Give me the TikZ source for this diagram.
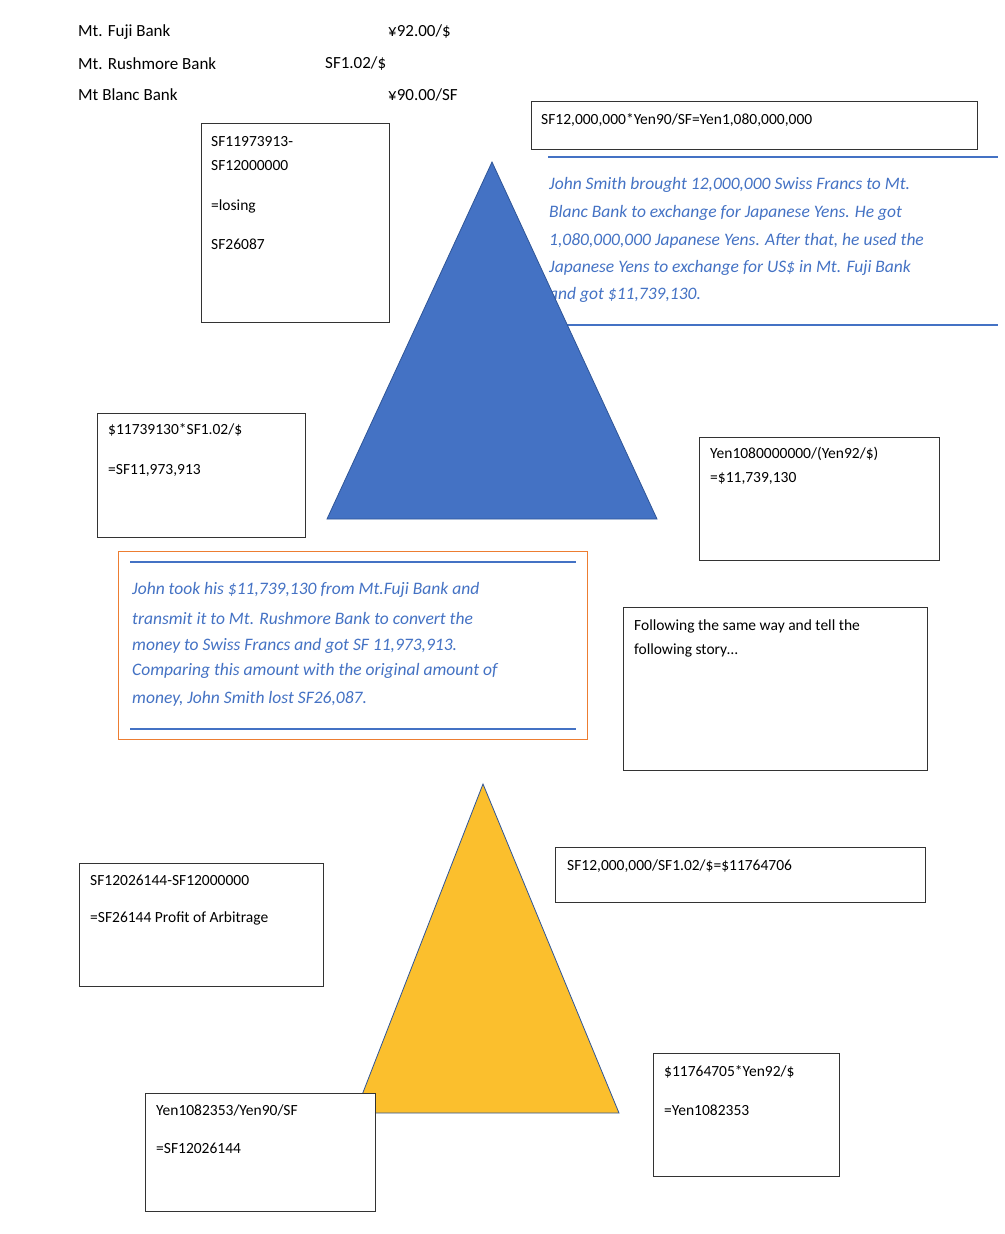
\documentclass[tikz,border=0pt]{standalone}
\usepackage{fontspec}
\setmainfont{Carlito}
\definecolor{tblue}{HTML}{4472C4}
\definecolor{torange}{HTML}{ED7D31}
\definecolor{tyellow}{HTML}{FBBF2D}
\definecolor{dblue}{HTML}{2F5597}
\begin{document}
\begin{tikzpicture}[x=1pt,y=-1pt,
  lbl/.style={anchor=west,inner sep=0pt,font=\fontsize{17}{20}\selectfont},
  bt/.style={anchor=west,inner sep=0pt,font=\fontsize{15.5}{18}\selectfont},
  it/.style={anchor=west,inner sep=0pt,text=tblue,font=\fontsize{17.5}{20}\selectfont\itshape},
  wbox/.style={draw=black!80,fill=white,line width=0.8pt},
  bline/.style={draw=tblue,line width=2.2pt}]
\useasboundingbox (0,0) rectangle (1004,1234);
\node[lbl] (l1) at (78,32) {Mt. Fuji Bank};
\node[lbl] (r1) at (388,32) {¥92.00/\$};
\node[lbl] (l2) at (78,64) {Mt. Rushmore Bank};
\node[lbl] (r2) at (325,64) {SF1.02/\$};
\node[lbl] (l3) at (78,95) {Mt Blanc Bank};
\node[lbl] (r3) at (388,95) {¥90.00/SF};
% box 1
\draw[wbox] (201,123) rectangle (389,322);
\node[bt] (b1a) at (211,142) {SF11973913-};
\node[bt] (b1b) at (211,166) {SF12000000};
\node[bt] (b1c) at (211,206) {=losing};
\node[bt] (b1d) at (211,244) {SF26087};
% top right box
\draw[wbox] (531,101) rectangle (977,149);
\node[bt] (b2) at (541,120) {SF12,000,000*Yen90/SF=Yen1,080,000,000};
\draw[bline] (548,157) -- (998,157);
\draw[bline] (548,325) -- (998,325);
\node[it] (t1) at (549,185) {John Smith brought 12,000,000 Swiss Francs to Mt.};
\node[it] (t2) at (549,213) {Blanc Bank to exchange for Japanese Yens. He got};
\node[it] (t3) at (549,241) {1,080,000,000 Japanese Yens. After that, he used the};
\node[it] (t4) at (549,268) {Japanese Yens to exchange for US\$ in Mt. Fuji Bank};
\node[it] (t5) at (549,295) {and got \$11,739,130.};
% blue triangle
\draw[fill=tblue,draw=dblue,line width=0.8pt] (492,162) -- (657,519) -- (327,519) -- cycle;
% boxes mid
\draw[wbox] (97,413) rectangle (305,537);
\node[bt] (b3a) at (108,430) {\$11739130*SF1.02/\$};
\node[bt] (b3b) at (108,470) {=SF11,973,913};
\draw[wbox] (699,437) rectangle (939,560);
\node[bt] (b4a) at (710,454) {Yen1080000000/(Yen92/\$)};
\node[bt] (b4b) at (710,478) {=\$11,739,130};
% orange box
\draw[draw=torange,fill=white,line width=1pt] (118,551) rectangle (587,739);
\draw[bline] (130,562) -- (576,562);
\draw[bline] (130,729) -- (576,729);
\node[it] (o1) at (132,590) {John took his \$11,739,130 from Mt.Fuji Bank and};
\node[it] (o2) at (132,618) {transmit it to Mt. Rushmore Bank to convert the};
\node[it] (o3) at (132,646) {money to Swiss Francs and got SF 11,973,913.};
\node[it] (o4) at (132,671) {Comparing this amount with the original amount of};
\node[it] (o5) at (132,699) {money, John Smith lost SF26,087.};
\draw[wbox] (623,607) rectangle (927,770);
\node[bt] (b5a) at (634,626) {Following the same way and tell the};
\node[bt] (b5b) at (634,650) {following story…};
% yellow triangle
\draw[fill=tyellow,draw=dblue,line width=0.8pt] (483,784) -- (619,1113) -- (355,1113) -- cycle;
\draw[wbox] (79,863) rectangle (323,986);
\node[bt] (b6a) at (90,880) {SF12026144-SF12000000};
\node[bt] (b6b) at (90,918) {=SF26144 Profit of Arbitrage};
\draw[wbox] (555,847) rectangle (925,902);
\node[bt] (b7) at (567,866) {SF12,000,000/SF1.02/\$=\$11764706};
\draw[wbox] (653,1053) rectangle (839,1176);
\node[bt] (b8a) at (664,1072) {\$11764705*Yen92/\$};
\node[bt] (b8b) at (664,1110) {=Yen1082353};
\draw[wbox] (145,1093) rectangle (375,1211);
\node[bt] (b9a) at (156,1110) {Yen1082353/Yen90/SF};
\node[bt] (b9b) at (156,1148) {=SF12026144};
\end{tikzpicture}
\end{document}
